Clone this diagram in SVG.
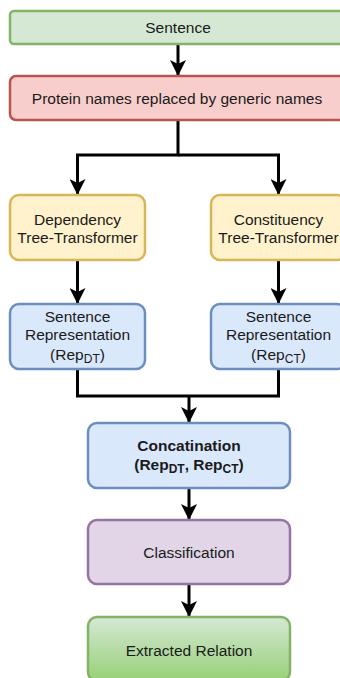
<svg xmlns="http://www.w3.org/2000/svg" width="340" height="678" viewBox="0 0 340 678">
<defs>
<style>
text{font-family:"Liberation Sans",Arial,Helvetica,sans-serif;font-size:15.5px;fill:#1a1a1a;text-anchor:middle}
.b{stroke-width:2.5}
.c{fill:none;stroke:#000;stroke-width:3}
.bold{font-weight:bold}
</style>
<marker id="ah" markerWidth="16" markerHeight="16" viewBox="0 0 16 16" refX="15" refY="8" orient="auto" markerUnits="userSpaceOnUse">
<path d="M0,0 L16,8 L0,16 L4,8 Z" fill="#000"/>
</marker>
<linearGradient id="g" x1="0" y1="0" x2="0" y2="1">
<stop offset="0" stop-color="#d5e8d4"/>
<stop offset="1" stop-color="#97d077"/>
</linearGradient>
</defs>
<g id="connectors">
<path class="c" d="M178,44 V75" marker-end="url(#ah)"/>
<path class="c" d="M178,120 V155 H77.5 V194" marker-end="url(#ah)"/>
<path class="c" d="M178,155 H278.5 V194" marker-end="url(#ah)"/>
<path class="c" d="M77.5,260 V303" marker-end="url(#ah)"/>
<path class="c" d="M278.5,260 V303" marker-end="url(#ah)"/>
<path class="c" d="M77.5,369 V396 H278.5 V369"/>
<path class="c" d="M189,396 V422" marker-end="url(#ah)"/>
<path class="c" d="M189,488 V519" marker-end="url(#ah)"/>
<path class="c" d="M189,584 V616" marker-end="url(#ah)"/>
</g>
<g id="sentence">
<rect class="b" x="10" y="11" width="336" height="33" rx="4" fill="#d5e8d4" stroke="#82b366"/>
<text x="178" y="33">Sentence</text>
</g>
<g id="protein">
<rect class="b" x="10" y="76" width="336" height="44" rx="6" fill="#f8cecc" stroke="#b85450"/>
<text x="177" y="103.5">Protein names replaced by generic names</text>
</g>
<g id="dependency">
<rect class="b" x="10" y="195" width="135" height="65" rx="9" fill="#fff2cc" stroke="#d6b656"/>
<text x="77.5" y="224.5">Dependency</text>
<text x="77.5" y="242.5">Tree-Transformer</text>
</g>
<g id="constituency">
<rect class="b" x="211" y="195" width="135" height="65" rx="9" fill="#fff2cc" stroke="#d6b656"/>
<text x="278.5" y="224.5">Constituency</text>
<text x="278.5" y="242.5">Tree-Transformer</text>
</g>
<g id="rep-dt">
<rect class="b" x="10" y="304" width="135" height="65" rx="9" fill="#dae8fc" stroke="#6c8ebf"/>
<text x="77.5" y="321.5">Sentence</text>
<text x="77.5" y="340">Representation</text>
<text x="77.5" y="360">(Rep<tspan font-size="12" dy="3">DT</tspan><tspan dy="-3">)</tspan></text>
</g>
<g id="rep-ct">
<rect class="b" x="211" y="304" width="135" height="65" rx="9" fill="#dae8fc" stroke="#6c8ebf"/>
<text x="278.5" y="321.5">Sentence</text>
<text x="278.5" y="340">Representation</text>
<text x="278.5" y="360">(Rep<tspan font-size="12" dy="3">CT</tspan><tspan dy="-3">)</tspan></text>
</g>
<g id="concat">
<rect class="b" x="88" y="423" width="202" height="65" rx="9" fill="#dae8fc" stroke="#6c8ebf"/>
<text class="bold" x="189" y="451">Concatination</text>
<text class="bold" x="189" y="470">(Rep<tspan font-size="12" dy="3">DT</tspan><tspan dy="-3">, Rep</tspan><tspan font-size="12" dy="3">CT</tspan><tspan dy="-3">)</tspan></text>
</g>
<g id="classification">
<rect class="b" x="88" y="520" width="202" height="64" rx="9" fill="#e1d5e7" stroke="#9673a6"/>
<text x="189" y="557.5">Classification</text>
</g>
<g id="extracted">
<rect class="b" x="88" y="617" width="202" height="64" rx="9" fill="url(#g)" stroke="#82b366"/>
<text x="189" y="656">Extracted Relation</text>
</g>
</svg>
